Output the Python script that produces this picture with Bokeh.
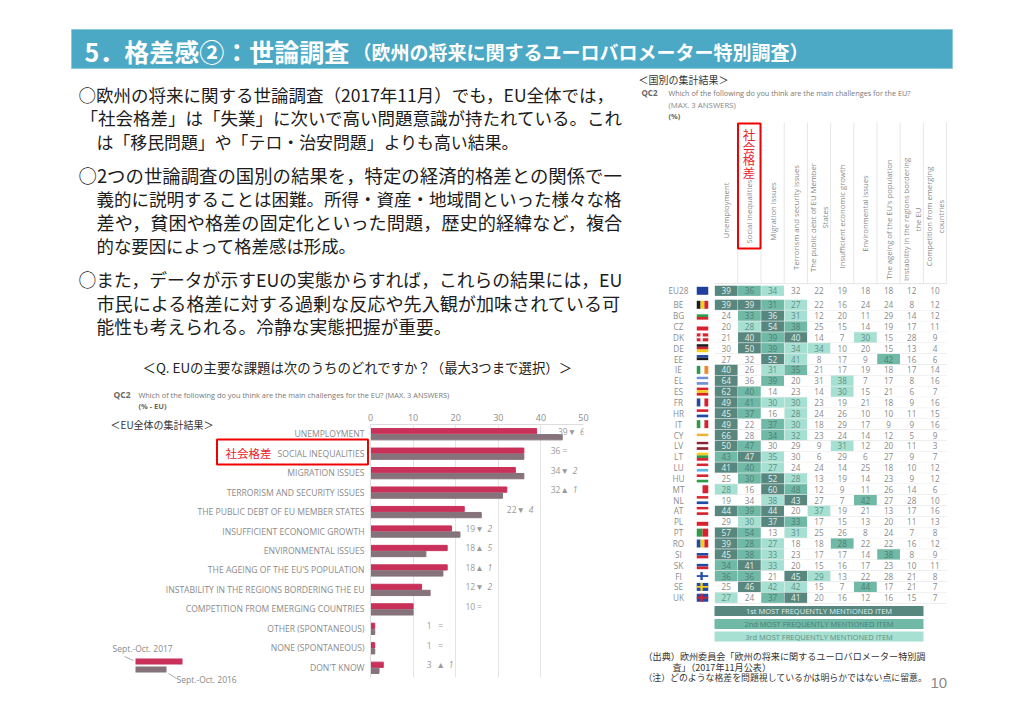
from bokeh.plotting import figure
from bokeh.layouts import column
from bokeh.models import (Label, BoxAnnotation, FactorRange, Range1d, FixedTicker, ColumnDataSource)
from bokeh.transform import dodge
from bokeh.core.properties import value
from bokeh.embed import file_html
from bokeh.resources import INLINE

# ---------- data ----------
categories = ["UNEMPLOYMENT", "SOCIAL INEQUALITIES", "MIGRATION ISSUES", "TERRORISM AND SECURITY ISSUES",
              "THE PUBLIC DEBT OF EU MEMBER STATES", "INSUFFICIENT ECONOMIC GROWTH", "ENVIRONMENTAL ISSUES",
              "THE AGEING OF THE EU'S POPULATION", "INSTABILITY IN THE REGIONS BORDERING THE EU",
              "COMPETITION FROM EMERGING COUNTRIES", "OTHER (SPONTANEOUS)", "NONE (SPONTANEOUS)", "DON'T KNOW"]
values_2017 = [39, 36, 34, 32, 22, 19, 18, 18, 12, 10, 1, 1, 3]
values_2016 = [45, 36, 36, 31, 26, 21, 13, 17, 14, 10, 1, 1, 2]
change_mark = ["▼", "=", "▼", "▲", "▼", "▼", "▲", "▲", "▼", "=", "=", "=", "▲"]
change_size = ["6", "", "2", "1", "4", "2", "5", "1", "2", "", "", "", "1"]
bar_ticks = [0, 10, 20, 30, 40, 50]

issues = ["Unemployment", "Social inequalities", "Migration issues", "Terrorism and security issues",
          "The public debt of EU Member\nStates", "Insufficient economic growth", "Environmental issues",
          "The ageing of the EU's population", "Instability in the regions bordering\nthe EU",
          "Competition from emerging\ncountries"]
countries = ["EU28", "BE", "BG", "CZ", "DK", "DE", "EE", "IE", "EL", "ES", "FR", "HR", "IT", "CY", "LV", "LT",
             "LU", "HU", "MT", "NL", "AT", "PL", "PT", "RO", "SI", "SK", "FI", "SE", "UK"]
EU28 = [39, 36, 34, 32, 22, 19, 18, 18, 12, 10]
BE = [39, 39, 31, 27, 22, 16, 24, 24, 8, 12]
BG = [24, 33, 36, 31, 12, 20, 11, 29, 14, 12]
CZ = [20, 28, 54, 38, 25, 15, 14, 19, 17, 11]
DK = [21, 40, 39, 40, 14, 7, 30, 15, 28, 9]
DE = [30, 50, 39, 34, 34, 10, 20, 15, 13, 4]
EE = [27, 32, 52, 41, 8, 17, 9, 42, 16, 6]
IE = [40, 26, 31, 35, 21, 17, 19, 18, 17, 14]
EL = [64, 36, 39, 20, 31, 38, 7, 17, 8, 16]
ES = [62, 40, 14, 23, 14, 30, 15, 21, 6, 7]
FR = [49, 41, 30, 30, 23, 19, 21, 18, 9, 16]
HR = [45, 37, 16, 28, 24, 26, 10, 10, 11, 15]
IT = [49, 22, 37, 30, 18, 29, 17, 9, 9, 16]
CY = [66, 28, 34, 32, 23, 24, 14, 12, 5, 9]
LV = [50, 47, 30, 29, 9, 31, 12, 20, 11, 3]
LT = [43, 47, 35, 30, 6, 29, 6, 27, 9, 7]
LU = [41, 40, 27, 24, 24, 14, 25, 18, 10, 12]
HU = [25, 30, 52, 28, 13, 19, 14, 23, 9, 12]
MT = [28, 16, 60, 48, 12, 9, 11, 26, 14, 6]
NL = [19, 34, 38, 43, 27, 7, 42, 27, 28, 10]
AT = [44, 39, 44, 20, 37, 19, 21, 13, 17, 16]
PL = [29, 30, 37, 33, 17, 15, 13, 20, 11, 13]
PT = [57, 54, 13, 31, 25, 26, 8, 24, 7, 8]
RO = [39, 28, 27, 18, 18, 28, 22, 22, 16, 12]
SI = [45, 38, 33, 23, 17, 17, 14, 38, 8, 9]
SK = [34, 41, 33, 20, 15, 16, 17, 23, 10, 11]
FI = [36, 36, 21, 45, 29, 13, 22, 28, 21, 8]
SE = [25, 46, 42, 42, 15, 7, 44, 17, 21, 7]
UK = [27, 24, 37, 41, 20, 16, 12, 16, 15, 7]
table = [EU28, BE, BG, CZ, DK, DE, EE, IE, EL, ES, FR, HR, IT, CY, LV, LT, LU, HU, MT, NL, AT, PL, PT, RO, SI, SK, FI, SE, UK]

body_lines = ["○欧州の将来に関する世論調査（2017年11月）でも，EU全体では，",
              "「社会格差」は「失業」に次いで高い問題意識が持たれている。これ",
              "は「移民問題」や「テロ・治安問題」よりも高い結果。",
              "○2つの世論調査の国別の結果を，特定の経済的格差との関係で一",
              "義的に説明することは困難。所得・資産・地域間といった様々な格",
              "差や，貧困や格差の固定化といった問題，歴史的経緯など，複合",
              "的な要因によって格差感は形成。",
              "○また，データが示すEUの実態からすれば，これらの結果には，EU",
              "市民による格差に対する過剰な反応や先入観が加味されている可",
              "能性も考えられる。冷静な実態把握が重要。"]

# ---------- style / layout ----------
JP = "Noto Sans CJK JP"
EN = "Open Sans"
GREY = "#8a8a8a"
RED = "#e8232a"
CRIMSON = "#c9315a"
MAUVE = "#85727a"
RANK_FILL = ["#57877f", "#70b9a6", "#a6e0d2"]
RANK_TEXT = ["#e6efed", "#4f7d72", "#5f8f84"]
W, H = 1000, 700
COL_W, ROW_H = 23.2, 10.85
COL0, ROW0 = 725.7, 304.3
BODY_SIZE = [17.5, 17.5, 16.9, 18.4, 17.5, 18.2, 17.4, 17.8, 18.1, 17.75]
BODY_Y = [94, 117, 141, 174, 198, 221, 245, 278, 302, 325]

s = figure(width=W, height=H, x_range=Range1d((0 - COL0) / COL_W, (W - COL0) / COL_W),
           y_range=Range1d((H - ROW0) / ROW_H, (0 - ROW0) / ROW_H), toolbar_location=None, output_backend="svg",
           min_border=0, frame_align=False)
s.outline_line_color = None
s.axis.visible = False
s.grid.visible = False


def txt(t, x, y, size, color="#222222", font=JP, align="left", base="middle", style="normal", angle=0):
    s.add_layout(Label(x=x, y=y, x_units="canvas", y_units="canvas", text=t, text_font=font,
                       text_font_size=f"{size}px", text_color=color, text_align=align, text_baseline=base,
                       text_font_style=style, angle=angle, angle_units="deg"))


def box(l, t, r, b, fill=None, line=None, lw=1, level="annotation"):
    s.add_layout(BoxAnnotation(left=l, right=r, top=t, bottom=b, left_units="canvas", right_units="canvas",
                               top_units="canvas", bottom_units="canvas", fill_color=fill,
                               fill_alpha=1 if fill else 0, line_color=line, line_alpha=1 if line else 0,
                               line_width=lw, level=level))


def seg(x0, y0, x1, y1, color="#aaaaaa"):
    s.segment(x0=(x0 - COL0) / COL_W, y0=(y0 - ROW0) / ROW_H, x1=(x1 - COL0) / COL_W, y1=(y1 - ROW0) / ROW_H,
              line_color=color, line_width=1)


# header
box(71, 29, 952, 68, fill="#4ca9c5", line="#8ccadb", level="underlay")
txt("5．格差感②：世論調査", 84, 50, 25, color="white", style="bold")
txt("（欧州の将来に関するユーロバロメーター特別調査）", 352, 51, 19, color="white", style="bold")

# left text
for t, y, sz in zip(body_lines, BODY_Y, BODY_SIZE):
    txt(t, 78 if t[0] == "○" else (80 if t[0] == "「" else 96), y, sz, color="#1c1c1c")
txt("＜Q. EUの主要な課題は次のうちのどれですか？（最大3つまで選択）＞", 357, 366, 13.4, align="center")
txt("QC2", 113, 394, 8.5, color="#666666", font=EN, style="bold")
txt("Which of the following do you think are the main challenges for the EU? (MAX. 3 ANSWERS)", 138, 394, 7.4,
    color="#777777", font=EN)
txt("(% - EU)", 138, 405, 7.5, color="#666666", font=EN, style="bold")
txt("＜EU全体の集計結果＞", 110, 424, 10, color="#333333")
box(216.5, 439, 367.5, 464, line="#f00000", lw=2)
txt("社会格差", 225, 452, 11.5, color=RED)
box(135, 658, 182, 664, fill=CRIMSON)
box(135, 666, 166, 672, fill=MAUVE)
seg(124, 656, 133, 660)
seg(168, 673, 176, 678)
txt("Sept.-Oct. 2017", 112, 648, 8.5, color=GREY, font=EN)
txt("Sept.-Oct. 2016", 176, 679, 8.5, color=GREY, font=EN)

# table
row_pos = [-1.29] + list(range(len(countries) - 1))
xs, ys, labels, fills, tcols = [], [], [], [], []
for r, vals in zip(row_pos, table):
    top3 = sorted(set(vals), reverse=True)[:3]
    for c, v in enumerate(vals):
        xs.append(c)
        ys.append(r)
        labels.append(str(v))
        k = top3.index(v) if v in top3 else None
        fills.append(RANK_FILL[k] if k is not None else "white")
        tcols.append(RANK_TEXT[k] if k is not None else "#8a8a8a")
v_lines = [c + 0.5 for c in range(10)]
s.segment(x0=v_lines, x1=v_lines, y0=[-16.8] * 10, y1=[-1.95] * 10, line_color="#e6e6e6")
h_lines = [-1.95] + [r + 0.5 for r in range(28)]
s.segment(x0=[-0.5] * 29, x1=[9.5] * 29, y0=h_lines, y1=h_lines, line_color="#e6e6e6")
s.rect(x=xs, y=ys, width=0.98, height=0.94, fill_color=fills, line_color=None)
s.text(x=xs, y=ys, text=labels, text_font=value(EN), text_font_size="8.2px", text_color=tcols, text_align="center",
       text_baseline="middle")
s.text(x=[(678 - COL0) / COL_W] * len(countries), y=row_pos, text=countries, text_font=value(EN),
       text_font_size="8.2px", text_color="#8c8c8c", text_align="center", text_baseline="middle")

# flags
RD, BL, GN, YL, WH, BK = "#d8232f", "#1f4aa8", "#2f9a4a", "#f4cf1a", "#ffffff", "#1c1c1c"
flags = dict(EU28=("h", ["#1f3f9e"]), BE=("v", [BK, YL, RD]), BG=("h", [WH, GN, RD]), CZ=("h", [WH, RD]), DK=("h", [RD]),
             DE=("h", [BK, RD, YL]), EE=("h", [BL, BK, WH]), IE=("v", [GN, WH, "#ee8a2c"]), EL=("h", ["#6f8fd8", WH, "#6f8fd8"]),
             ES=("h", [RD, YL, RD]), FR=("v", [BL, WH, RD]), HR=("h", [RD, WH, BL]), IT=("v", [GN, WH, RD]),
             CY=("h", [WH, "#f0b030", WH]), LV=("h", ["#8e2233", WH, "#8e2233"]), LT=("h", [YL, GN, RD]),
             LU=("h", [RD, WH, "#5fb4e8"]), HU=("h", [RD, WH, GN]), MT=("v", [WH, RD]), NL=("h", [RD, WH, BL]),
             AT=("h", [RD, WH, RD]), PL=("h", [WH, RD]), PT=("v", [GN, RD]), RO=("v", [BL, YL, RD]),
             SI=("h", [WH, BL, RD]), SK=("h", [WH, BL, RD]), FI=("h", [WH]), SE=("h", [BL]), UK=("h", [BL]))
crosses = dict(DK=WH, FI=BL, SE=YL, UK=RD)
fcx, fw, fh = (702 - COL0) / COL_W, 11.5 / COL_W, 8 / ROW_H
fl, fr, ft, fb, fc = [], [], [], [], []
for name, r in zip(countries, row_pos):
    kind, cols = flags[name]
    n = len(cols)
    for i, c in enumerate(cols):
        if kind == "h":
            fl.append(fcx - fw / 2); fr.append(fcx + fw / 2)
            ft.append(r - fh / 2 + fh * i / n); fb.append(r - fh / 2 + fh * (i + 1) / n)
        else:
            fl.append(fcx - fw / 2 + fw * i / n); fr.append(fcx - fw / 2 + fw * (i + 1) / n)
            ft.append(r - fh / 2); fb.append(r + fh / 2)
        fc.append(c)
    if name in crosses:
        fl += [fcx - fw / 2, fcx - fw * 0.18]; fr += [fcx + fw / 2, fcx + fw * 0.02]
        ft += [r - fh * 0.11, r - fh / 2]; fb += [r + fh * 0.11, r + fh / 2]
        fc += [crosses[name]] * 2
s.quad(left=fl, right=fr, top=ft, bottom=fb, fill_color=fc, line_color=None)

# column headings
head_y = [210, 211, 211, 217, 217, 216, 213, 219, 219, 216]
for i, (t, y) in enumerate(zip(issues, head_y)):
    txt(t, COL0 + COL_W * i, y, 7.7, color="#8a8a8a", font=EN, align="center", angle=90)

txt("＜国別の集計結果＞", 638, 79, 10, color="#333333")
txt("QC2", 641, 92, 8, color="#666666", font=EN, style="bold")
txt("Which of the following do you think are the main challenges for the EU?", 668, 92, 7.3, color="#777777", font=EN)
txt("(MAX. 3 ANSWERS)", 668, 104, 7.8, color="#888888", font=EN)
txt("(%)", 668, 115, 7.5, color="#666666", font=EN, style="bold")
box(737.5, 123, 760, 248, line="#f00000", lw=2)
for ch, y in zip("社会格差", [134, 147, 159, 172]):
    txt(ch, 748.5, y, 12.5, color=RED, align="center")
for (t, yy, f, tc) in (("1st MOST FREQUENTLY MENTIONED ITEM", 610.5, RANK_FILL[0], "#dfeeea"),
                       ("2nd MOST FREQUENTLY MENTIONED ITEM", 623.5, RANK_FILL[1], "#4f7d72"),
                       ("3rd MOST FREQUENTLY MENTIONED ITEM", 636, RANK_FILL[2], "#5f8f84")):
    box(714, yy - 5, 923, yy + 5, fill=f, level="underlay")
    txt(t, 818.5, yy, 7.5, color=tc, font=EN, align="center")
txt("（出典）欧州委員会「欧州の将来に関するユーロバロメーター特別調", 643, 655, 9.1, color="#333333")
txt("査」（2017年11月公表）", 672, 666, 9.1, color="#333333")
txt("（注）どのような格差を問題視しているかは明らかではない点に留意。", 643, 677, 8.9, color="#333333")
txt("10", 930, 682, 15, color="#8a8a8a", font="Liberation Sans")

# ---------- bars (own figure with its own axes, laid over the slide) ----------
B_L, B_T, FR_L, FR_T, FR_W, FR_H, B_W, B_H = 150, 400, 370, 424, 213, 253, 450, 285
p = figure(width=B_W, height=B_H, x_range=Range1d(0, 50),
           y_range=FactorRange(factors=list(reversed(categories)), factor_padding=0, range_padding=0),
           x_axis_location="above", toolbar_location=None, output_backend="svg", frame_align=False,
           min_border_left=FR_L - B_L, min_border_right=B_W - (FR_L - B_L) - FR_W, min_border_top=FR_T - B_T,
           min_border_bottom=B_H - (FR_T - B_T) - FR_H, margin=(-(H - B_T), 0, 0, B_L))
p.outline_line_color = None
p.background_fill_alpha = 0
p.border_fill_alpha = 0
src = ColumnDataSource(dict(cat=categories, y17=values_2017, y16=values_2016, mark=change_mark, ch=change_size,
                            num=[str(v) for v in values_2017],
                            lx=[44, 42.3, 42.3, 42.3, 32, 22.3, 22.3, 22.3, 22.3, 22.3, 13.2, 13.2, 13.2]))
p.hbar(y=dodge("cat", 0.155, range=p.y_range), right="y17", left=0, height=0.27, color=CRIMSON, source=src)
p.hbar(y=dodge("cat", -0.155, range=p.y_range), right="y16", left=0, height=0.27, color=MAUVE, source=src)
lbl_y = dodge("cat", 0.155, range=p.y_range)
for col, off, sty in (("num", 0, "normal"), ("mark", 14, "normal"), ("ch", 22, "italic")):
    p.text(x="lx", y=lbl_y, text=col, x_offset=off, source=src, text_font=value(EN), text_font_size="8.5px",
           text_color="#9a9a9a", text_baseline="middle", text_font_style=sty,
           text_align="left" if off != 14 else "center")
p.xaxis.ticker = FixedTicker(ticks=bar_ticks)
p.xaxis.major_label_text_font = EN
p.xaxis.major_label_text_font_size = "9px"
p.xaxis.major_label_text_color = "#8c8c8c"
p.xaxis.axis_line_color = "#dddddd"
p.xaxis.major_tick_line_color = None
p.xaxis.minor_tick_line_color = None
p.xaxis.major_tick_out = 0
p.xaxis.major_label_standoff = 4
p.yaxis.major_label_text_font = EN
p.yaxis.major_label_text_font_size = "8.6px"
p.yaxis.major_label_text_color = GREY
p.yaxis.axis_line_color = "#dddddd"
p.yaxis.major_tick_line_color = None
p.yaxis.minor_tick_line_color = None
p.yaxis.major_tick_out = 0
p.yaxis.major_label_standoff = 6
p.xgrid.grid_line_color = "#e4e4e4"
p.ygrid.grid_line_color = None

root = column(s, p, spacing=0)
open("out.html", "w").write(file_html(root, INLINE))
